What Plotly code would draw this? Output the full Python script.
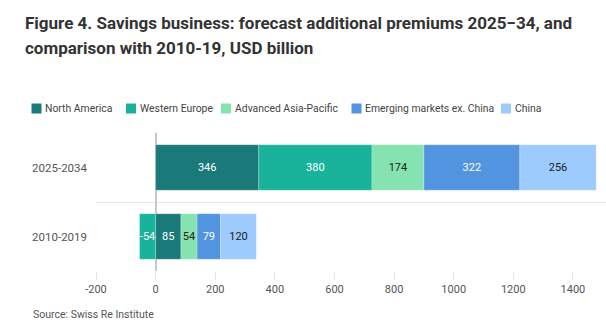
import plotly.graph_objects as go

periods = ["2025-2034", "2010-2019"]
regions = ["North America", "Western Europe", "Advanced Asia-Pacific",
           "Emerging markets ex. China", "China"]
values = {
    "North America": [346, 85],
    "Western Europe": [380, -54],
    "Advanced Asia-Pacific": [174, 54],
    "Emerging markets ex. China": [322, 79],
    "China": [256, 120],
}
colors = ["#1a7a7a", "#19b39b", "#84e3b0", "#5294e0", "#9dcbfd"]
text_colors = ["white", "white", "#222222", "white", "#222222"]
x_ticks = [-200, 0, 200, 400, 600, 800, 1000, 1200, 1400]
x_tick_labels = ["-200", "0", "200", "400", "600", "800", "1000", "1200", "1400"]

# layout geometry (pixels)
W, H = 606, 331
ML, MR, MT, MB = 96, 0, 133, 60
PW, PH = W - ML - MR, H - MT - MB
legend_px = [31.5, 126, 221, 351.5, 501]   # swatch left edges


def px_x(p):
    return (p - ML) / PW


def px_y(p):
    return (H - MB - p) / PH


fig = go.Figure()
for r, c, tc in zip(regions, colors, text_colors):
    fig.add_trace(go.Bar(
        y=periods, x=values[r], name=r, orientation="h",
        marker=dict(color=c, line=dict(color="rgba(255,255,255,0.5)", width=0.5)),
        text=[str(v) for v in values[r]], textposition="inside",
        insidetextanchor="middle", textangle=0,
        textfont=dict(color=tc, size=11, family="Roboto"),
        width=0.66, showlegend=False,
    ))

shapes = []
annotations = []
for r, c, lx in zip(regions, colors, legend_px):
    shapes.append(dict(type="rect", xref="paper", yref="paper",
                       x0=px_x(lx), x1=px_x(lx + 10), y0=px_y(113.5), y1=px_y(103.5),
                       fillcolor=c, line=dict(width=0)))
    annotations.append(dict(text=r, xref="paper", yref="paper",
                            x=px_x(lx + 11.5), y=px_y(108.5), xanchor="left", yanchor="middle",
                            showarrow=False, font=dict(size=10.4, color="#444444")))

annotations += [
    dict(text="<b>Figure 4. Savings business: forecast additional premiums 2025−34, and</b>",
         xref="paper", yref="paper", x=px_x(23), y=px_y(23), xanchor="left", yanchor="middle",
         showarrow=False, font=dict(size=17, color="#333333")),
    dict(text="<b>comparison with 2010-19, USD billion</b>",
         xref="paper", yref="paper", x=px_x(23), y=px_y(48), xanchor="left", yanchor="middle",
         showarrow=False, font=dict(size=17, color="#333333")),
    dict(text="Source: Swiss Re Institute", xref="paper", yref="paper",
         x=px_x(31), y=px_y(314), xanchor="left", yanchor="middle", showarrow=False,
         font=dict(size=10.5, color="#555555")),
]

fig.update_layout(
    width=W, height=H,
    barmode="relative",
    plot_bgcolor="white", paper_bgcolor="white",
    margin=dict(l=ML, r=MR, t=MT, b=MB),
    font=dict(family="Roboto", color="#555555", size=11),
    uniformtext=dict(minsize=9, mode="show"),
    showlegend=False,
    xaxis=dict(
        range=[-200, 1511], tickvals=x_ticks, ticktext=x_tick_labels, showgrid=False,
        zeroline=True, zerolinecolor="#c8c8c8", zerolinewidth=2,
        ticks="outside", ticklen=8, tickcolor="#e6e6e6",
        tickfont=dict(size=11, color="#555555"), showline=False,
    ),
    yaxis=dict(
        categoryorder="array", categoryarray=periods[::-1],
        tickson="boundaries", showgrid=True, gridcolor="#e8e8e8", gridwidth=1,
        ticks="", ticklabelstandoff=8,
        tickfont=dict(size=11.5, color="#555555"),
        range=[-0.5, 1.5],
    ),
    shapes=shapes,
    annotations=annotations,
)
fig.write_html("out.html")
